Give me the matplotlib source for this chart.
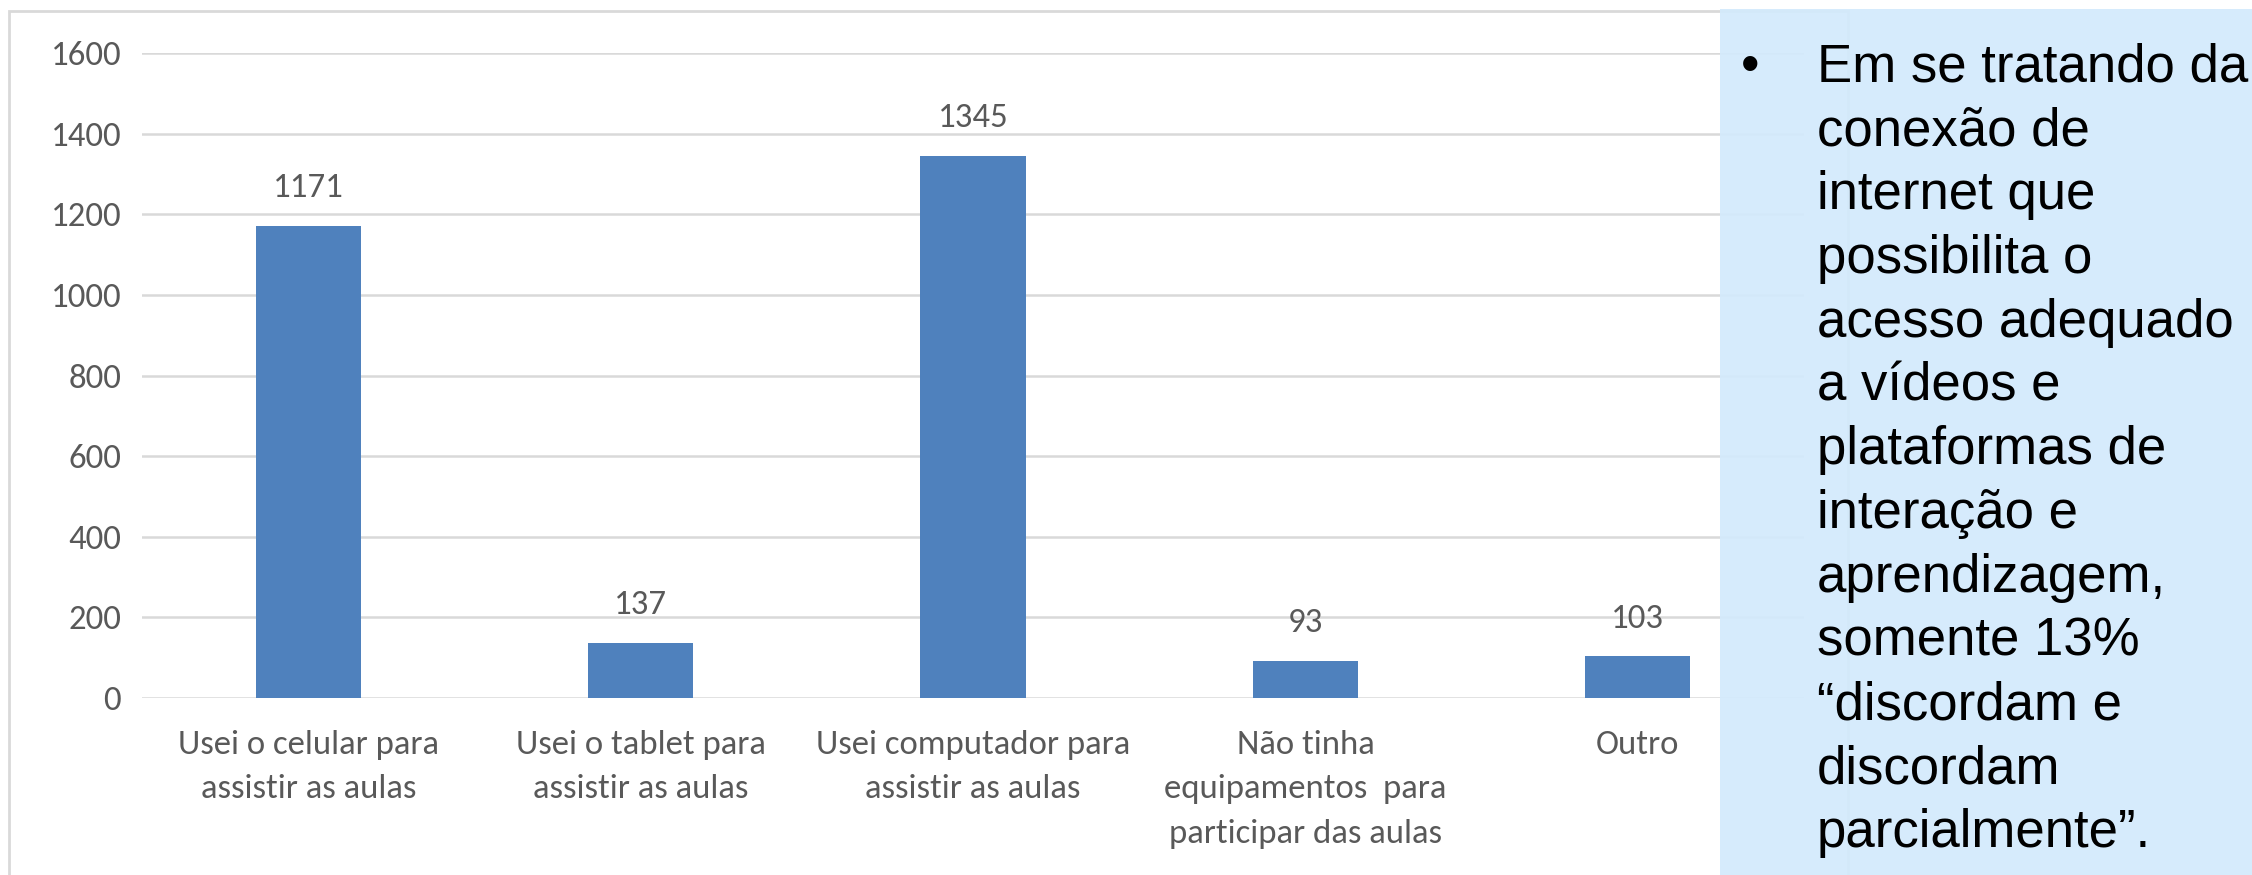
import matplotlib.pyplot as plt
from matplotlib.patches import Rectangle

categories = [
    "Usei o celular para\nassistir as aulas",
    "Usei o tablet para\nassistir as aulas",
    "Usei computador para\nassistir as aulas",
    "Não tinha\nequipamentos  para\nparticipar das aulas",
    "Outro",
]
values = [1171, 137, 1345, 93, 103]
yticks = [0, 200, 400, 600, 800, 1000, 1200, 1400, 1600]

note_lines = [
    "Em se tratando da", "conexão de", "internet que", "possibilita o",
    "acesso adequado", "a vídeos e", "plataformas de", "interação e",
    "aprendizagem,", "somente 13%", "“discordam e", "discordam",
    "parcialmente”.",
]

W, H = 2252, 875
calibri = ["Carlito", "Liberation Sans Narrow", "Archivo Narrow", "DejaVu Sans"]
arial = ["Liberation Sans", "DejaVu Sans"]
grey = "#595959"

fig = plt.figure(figsize=(W / 100, H / 100), dpi=100)

# outer chart frame
fig.patches.append(Rectangle((9 / W, -0.05), (1848 - 9) / W, 1.05 - 11 / H,
                             transform=fig.transFigure, fill=False,
                             edgecolor="#D9D9D9", linewidth=2, zorder=0))

ax = fig.add_axes([142 / W, 177 / H, (1804 - 142) / W, (698 - 53) / H])
x = range(len(values))
bars = ax.bar(x, values, width=0.316, color="#4F81BD", zorder=3)
ax.set_xlim(-0.5, len(values) - 0.5)
ax.set_ylim(0, 1600)
ax.set_yticks(yticks)
ax.set_yticklabels([str(v) for v in yticks], family=calibri, fontsize=25, color=grey)
ax.set_xticks(list(x))
ax.set_xticklabels(categories, family=calibri, fontsize=25, color=grey,
                   va="top", linespacing=1.6)
ax.tick_params(axis="y", length=0, pad=15)
ax.tick_params(axis="x", length=0, pad=23)
ax.grid(axis="y", color="#D9D9D9", linewidth=1.8, zorder=0)
for s in ax.spines.values():
    s.set_visible(False)
ax.set_facecolor("none")

for b, v in zip(bars, values):
    ax.annotate(str(v), (b.get_x() + b.get_width() / 2, v), xytext=(0, 27),
                textcoords="offset points", ha="center", va="center",
                family=calibri, fontsize=25, color=grey)

# side note box
fig.patches.append(Rectangle((1720 / W, 0), (W - 1720) / W, 1 - 9 / H,
                             transform=fig.transFigure, facecolor="#D3EAFC",
                             edgecolor="none", alpha=0.93, zorder=5))
fig.text(1750 / W, 1 - 82 / H, "•", family=arial, fontsize=38,
         va="baseline", ha="center", zorder=6)
for i, line in enumerate(note_lines):
    fig.text(1817 / W, 1 - (82 + 63.75 * i) / H, line, family=arial, fontsize=38,
             va="baseline", ha="left", zorder=6)

fig.savefig("out.png", dpi=100)
